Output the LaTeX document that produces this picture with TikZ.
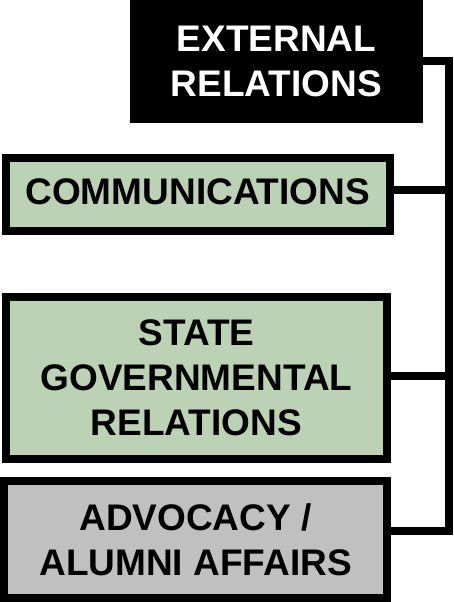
\documentclass[tikz,border=0pt]{standalone}
\usepackage{fontspec}
\setmainfont{Liberation Sans}
\definecolor{boxgreen}{RGB}{188,210,181}
\definecolor{boxgray}{RGB}{192,192,192}
\begin{document}
\begin{tikzpicture}[x=1pt,y=-1pt,
  lbl/.style={font=\fontsize{37}{45}\selectfont\bfseries, align=center, inner sep=0pt},
  unit/.style={lbl, draw=black, line width=8pt, rectangle},
  conn/.style={draw=black, line width=8pt, line join=miter}]
\useasboundingbox (0,0) rectangle (454,602);
\node[lbl, fill=black, text=white, minimum width=293pt, minimum height=123pt] (top) at (276.5,61.5) {EXTERNAL\\RELATIONS};
\node[unit, fill=boxgreen, minimum width=383.5pt, minimum height=72.5pt, text depth=6pt] (comm) at (197.75,194.25) {COMMUNICATIONS};
\node[unit, fill=boxgreen, minimum width=381pt, minimum height=161.5pt] (state) at (196.5,377.75) {STATE\\GOVERNMENTAL\\RELATIONS};
\node[unit, fill=boxgray, minimum width=383pt, minimum height=117pt] (adv) at (195.5,539.5) {ADVOCACY /\\ALUMNI AFFAIRS};
\coordinate (j1) at (448.5,61.5);
\coordinate (j4) at (448.5,530.5);
\draw[conn] (top.east) -- (j1) -- (j4) -- (adv.east |- j4);
\draw[conn] ([yshift=4.75pt]comm.east) -- ([yshift=4.75pt]comm.east -| j1);
\draw[conn] ([yshift=2.25pt]state.east) -- ([yshift=2.25pt]state.east -| j1);
\end{tikzpicture}
\end{document}
